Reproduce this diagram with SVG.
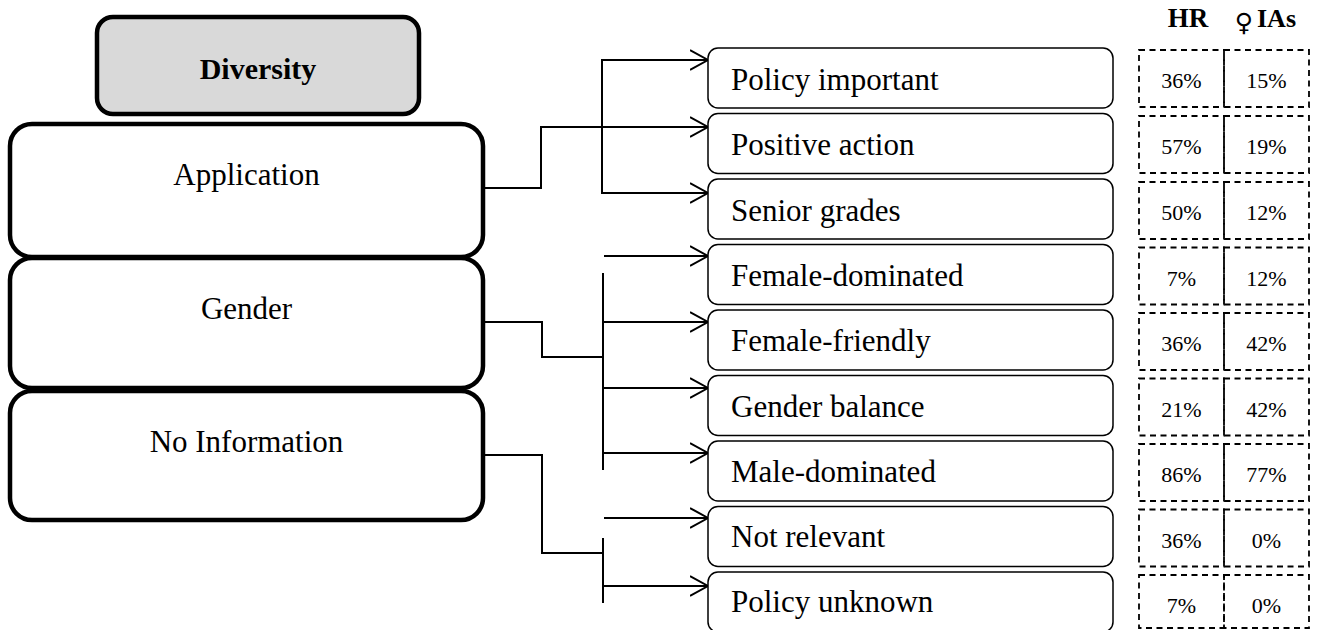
<svg xmlns="http://www.w3.org/2000/svg" width="1318" height="630" viewBox="0 0 1318 630">
<defs>
<marker id="arr" markerWidth="20" markerHeight="22" refX="18" refY="11" markerUnits="userSpaceOnUse" orient="auto">
<path d="M0,1 L18,11 L0,21" fill="none" stroke="#000" stroke-width="2"/>
</marker>
<style>
.big{fill:#fff;stroke:#000;stroke-width:4.5}
.root{fill:#d9d9d9;stroke:#000;stroke-width:4.5}
.leaf{fill:#fff;stroke:#000;stroke-width:1.5}
.cell{fill:none;stroke:#000;stroke-width:1.8;stroke-dasharray:6 4.5}
.t{font-family:"Liberation Serif","Times New Roman",serif;fill:#000}
.lt{font-size:31px;text-anchor:middle}
.rt{font-size:31px}
.pc{font-size:22px;text-anchor:middle}
.b{font-weight:bold}
.ln{fill:none;stroke:#000;stroke-width:2}
</style>
</defs>
<rect width="1318" height="630" fill="#fff"/>

<g id="header">
<text class="t b" x="1188" y="27" font-size="27" text-anchor="middle">HR</text>
<text x="1244" y="31" font-family="DejaVu Sans, sans-serif" font-size="25" font-weight="normal" text-anchor="middle">♀</text>
<text class="t b" x="1257" y="27" font-size="26">IAs</text>
</g>

<g id="diversity">
<rect class="root" x="97" y="17" width="322" height="97" rx="16"/>
<text class="t b" x="258" y="79" font-size="30" text-anchor="middle">Diversity</text>
</g>
<g id="application">
<rect class="big" x="10" y="124" width="473" height="133" rx="22"/>
<text class="t lt" x="246.5" y="185">Application</text>
</g>
<g id="gender">
<rect class="big" x="10" y="258" width="473" height="130" rx="22"/>
<text class="t lt" x="246.5" y="319">Gender</text>
</g>
<g id="noinfo">
<rect class="big" x="10" y="391" width="473" height="129" rx="22"/>
<text class="t lt" x="246.5" y="452">No Information</text>
</g>

<g id="connectors">
<polyline class="ln" points="483,188 541,188 541,127 602,127"/>
<line class="ln" x1="602" y1="59" x2="602" y2="194"/>
<line class="ln" x1="603" y1="60" x2="708" y2="60" marker-end="url(#arr)"/>
<line class="ln" x1="602" y1="127" x2="708" y2="127" marker-end="url(#arr)"/>
<line class="ln" x1="602" y1="193" x2="708" y2="193" marker-end="url(#arr)"/>

<line class="ln" x1="604" y1="256" x2="708" y2="256" marker-end="url(#arr)"/>
<polyline class="ln" points="483,322 542,322 542,357 603,357"/>
<line class="ln" x1="603" y1="273" x2="603" y2="470"/>
<line class="ln" x1="603" y1="322" x2="708" y2="322" marker-end="url(#arr)"/>
<line class="ln" x1="603" y1="388" x2="708" y2="388" marker-end="url(#arr)"/>
<line class="ln" x1="603" y1="453" x2="708" y2="453" marker-end="url(#arr)"/>

<line class="ln" x1="604" y1="518" x2="708" y2="518" marker-end="url(#arr)"/>
<polyline class="ln" points="483,455 542,455 542,553 603,553"/>
<line class="ln" x1="603" y1="538" x2="603" y2="603"/>
<line class="ln" x1="603" y1="586" x2="708" y2="586" marker-end="url(#arr)"/>
</g>

<g id="leaf1"><rect class="leaf" x="708" y="48" width="405" height="60" rx="10"/><text class="t rt" x="731" y="90">Policy important</text></g>
<g id="leaf2"><rect class="leaf" x="708" y="113.5" width="405" height="60" rx="10"/><text class="t rt" x="731" y="155">Positive action</text></g>
<g id="leaf3"><rect class="leaf" x="708" y="179" width="405" height="60" rx="10"/><text class="t rt" x="731" y="221">Senior grades</text></g>
<g id="leaf4"><rect class="leaf" x="708" y="244.5" width="405" height="60" rx="10"/><text class="t rt" x="731" y="286">Female-dominated</text></g>
<g id="leaf5"><rect class="leaf" x="708" y="310" width="405" height="60" rx="10"/><text class="t rt" x="731" y="351">Female-friendly</text></g>
<g id="leaf6"><rect class="leaf" x="708" y="375.5" width="405" height="60" rx="10"/><text class="t rt" x="731" y="417">Gender balance</text></g>
<g id="leaf7"><rect class="leaf" x="708" y="441" width="405" height="60" rx="10"/><text class="t rt" x="731" y="482">Male-dominated</text></g>
<g id="leaf8"><rect class="leaf" x="708" y="506.5" width="405" height="60" rx="10"/><text class="t rt" x="731" y="547">Not relevant</text></g>
<g id="leaf9"><rect class="leaf" x="708" y="572" width="405" height="60" rx="10"/><text class="t rt" x="731" y="612">Policy unknown</text></g>

<g id="table">
<rect class="cell" x="1139" y="50" width="85" height="57"/><rect class="cell" x="1224" y="50" width="85" height="57"/>
<text class="t pc" x="1181.5" y="88">36%</text><text class="t pc" x="1266.5" y="88">15%</text>
<rect class="cell" x="1139" y="116" width="85" height="57"/><rect class="cell" x="1224" y="116" width="85" height="57"/>
<text class="t pc" x="1181.5" y="154">57%</text><text class="t pc" x="1266.5" y="154">19%</text>
<rect class="cell" x="1139" y="182" width="85" height="57"/><rect class="cell" x="1224" y="182" width="85" height="57"/>
<text class="t pc" x="1181.5" y="220">50%</text><text class="t pc" x="1266.5" y="220">12%</text>
<rect class="cell" x="1139" y="247.5" width="85" height="57"/><rect class="cell" x="1224" y="247.5" width="85" height="57"/>
<text class="t pc" x="1181.5" y="285.5">7%</text><text class="t pc" x="1266.5" y="285.5">12%</text>
<rect class="cell" x="1139" y="313" width="85" height="57"/><rect class="cell" x="1224" y="313" width="85" height="57"/>
<text class="t pc" x="1181.5" y="351">36%</text><text class="t pc" x="1266.5" y="351">42%</text>
<rect class="cell" x="1139" y="378.5" width="85" height="57"/><rect class="cell" x="1224" y="378.5" width="85" height="57"/>
<text class="t pc" x="1181.5" y="416.5">21%</text><text class="t pc" x="1266.5" y="416.5">42%</text>
<rect class="cell" x="1139" y="444" width="85" height="57"/><rect class="cell" x="1224" y="444" width="85" height="57"/>
<text class="t pc" x="1181.5" y="482">86%</text><text class="t pc" x="1266.5" y="482">77%</text>
<rect class="cell" x="1139" y="509.5" width="85" height="57"/><rect class="cell" x="1224" y="509.5" width="85" height="57"/>
<text class="t pc" x="1181.5" y="547.5">36%</text><text class="t pc" x="1266.5" y="547.5">0%</text>
<rect class="cell" x="1139" y="575" width="85" height="53"/><rect class="cell" x="1224" y="575" width="85" height="53"/>
<text class="t pc" x="1181.5" y="613">7%</text><text class="t pc" x="1266.5" y="613">0%</text>
</g>
</svg>
